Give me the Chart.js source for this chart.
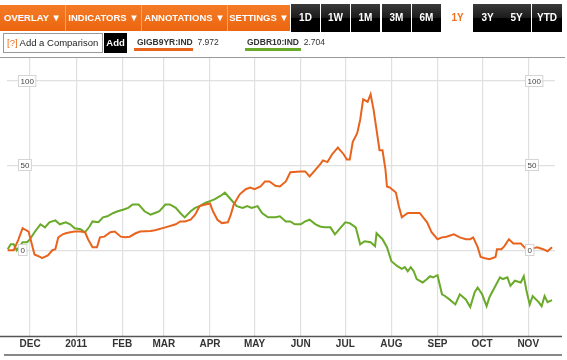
<!DOCTYPE html>
<html>
<head>
<meta charset="utf-8">
<script src="https://cdn.jsdelivr.net/npm/chart.js@4.4.1/dist/chart.umd.min.js"></script>
<style>
  body { margin: 0; width: 567px; height: 360px; overflow: hidden; background: #fff;
         font-family: "Liberation Sans", Arial, sans-serif; position: relative; }
  #chart { position: absolute; left: 0; top: 0; }
  .ob { position: absolute; top: 5px; height: 26px; line-height: 26px; background: linear-gradient(#f47b26, #ec650f);
        color: #fff; font-weight: bold; font-size: 9.5px; text-align: center; border-right: 1px solid #f8a46c; }
  .bb { position: absolute; top: 4px; height: 28px; line-height: 28px; width: 29px; background: linear-gradient(#3a3a3a 0%, #1a1a1a 50%, #000 51%, #000 100%);
        color: #fff; font-weight: bold; font-size: 10px; text-align: center; }
  .bb.sel { background: #fff; color: #f07020; }
  .inp { position: absolute; left: 3px; top: 33px; width: 98px; height: 18px; border: 1px solid #999;
         font-size: 9.5px; line-height: 18px; color: #222; }
  .inp span { color: #e8701e; margin-left: 3px; margin-right: 2px; }
  .add { position: absolute; left: 104px; top: 33px; width: 23px; height: 20px; line-height: 20px; background: #000;
         color: #fff; font-weight: bold; font-size: 9.5px; text-align: center; }
  .ser { position: absolute; top: 37px; font-size: 8.5px; color: #333; }
  .ser b { font-weight: bold; }
  .ul { position: absolute; top: 48px; height: 3px; }
  .hl { position: absolute; left: 0; height: 1px; background: #999; }
</style>
</head>
<body>
<canvas id="chart" width="567" height="360"></canvas>

<div class="ob" style="left:0;width:65px">OVERLAY &#9660;</div>
<div class="ob" style="left:66px;width:75px">INDICATORS &#9660;</div>
<div class="ob" style="left:142px;width:85px">ANNOTATIONS &#9660;</div>
<div class="ob" style="left:228px;width:62px;border-right:none">SETTINGS &#9660;</div>
<div class="bb" style="left:291px">1D</div>
<div class="bb" style="left:321px">1W</div>
<div class="bb" style="left:351px">1M</div>
<div class="bb" style="left:382px">3M</div>
<div class="bb" style="left:412px">6M</div>
<div class="bb sel" style="left:443px">1Y</div>
<div class="bb" style="left:473px">3Y</div>
<div class="bb" style="left:502px">5Y</div>
<div class="bb" style="left:532px;width:30px">YTD</div>

<div class="inp"><span>[?]</span>Add a Comparison</div>
<div class="add">Add</div>
<div class="ser" style="left:137px"><b>GIGB9YR:IND</b>&nbsp; 7.972</div>
<div class="ul" style="left:134px;width:59px;background:#e8641e"></div>
<div class="ser" style="left:247px"><b>GDBR10:IND</b>&nbsp; 2.704</div>
<div class="ul" style="left:245px;width:56px;background:#6aaa2a"></div>
<div class="hl" style="top:57px;width:565px"></div>
<div class="hl" style="top:354px;left:4px;width:558px;height:2px;background:#888"></div>

<script>
// day offsets counted from 2010-12-01
const baseDate = '2010-12-01';
const monthStarts = ['2010-12-01', '2011-01-01', '2011-02-01', '2011-03-01', '2011-04-01', '2011-05-01',
  '2011-06-01', '2011-07-01', '2011-08-01', '2011-09-01', '2011-10-01', '2011-11-01'];
const monthLabels = ['DEC', '2011', 'FEB', 'MAR', 'APR', 'MAY', 'JUN', 'JUL', 'AUG', 'SEP', 'OCT', 'NOV'];
const yTicks = [0, 50, 100];

// GIGB9YR:IND (% change)
const gigbDays = [-15, -11, -8, -5, -1, 3, 7, 8, 12, 15, 17, 19, 22, 24, 27, 30, 34, 37, 39, 42, 45, 47, 50, 54,
  57, 61, 64, 67, 71, 74, 81, 84, 91, 98, 101, 104, 108, 111, 114, 118, 121, 123, 126, 129, 133, 135, 137, 141,
  145, 148, 151, 155, 158, 161, 165, 168, 172, 175, 182, 185, 188, 192, 195, 197, 200, 203, 207, 211, 213, 215,
  217, 220, 222, 224, 227, 229, 231, 233, 235, 237, 239, 240, 242, 246, 248, 250, 254, 259, 262, 267, 270, 274,
  277, 280, 285, 289, 293, 296, 298, 301, 303, 306, 309, 313, 314, 317, 319, 322, 325, 330, 333, 336, 341, 345,
  348, 351];
const gigbValues = [0, 0, 6, 13, 11, -2.5, -4, -4.7, -3, 0, 0.6, 7.6, 9.4, 10, 10.6, 11, 11, 10.6, 6.5, 1.8, 1.8,
  7.6, 8, 10.6, 11, 8, 7.6, 8, 10, 11, 11.4, 11.8, 13.5, 15.3, 17, 17, 18, 21, 26, 27, 27.6, 23, 18, 16, 16.5, 21,
  27, 33, 36, 37, 36, 37.6, 40.6, 40.6, 38, 37.6, 40.6, 46, 46.5, 46.5, 43.5, 47.6, 50.6, 53, 52, 56.5, 60.6, 56.5,
  53.5, 53.5, 64, 69, 77, 89, 87.6, 92, 83, 71, 59, 59, 47.6, 37.6, 37, 34, 26, 19.4, 22, 22, 22, 16.5, 10.6, 6.5,
  7.6, 8, 9.4, 7.6, 6.5, 6.5, 7.6, 1.8, -4, -4.7, -5.3, -4, 0.6, 0.6, 2.4, 6.5, 4, 4, 1.2, 0.6, 1.8, 0.6, -0.6, 1.8];

// GDBR10:IND (% change)
const gdbrDays = [-15, -13, -11, -9, -5, -2, 0, 3, 7, 10, 13, 17, 20, 24, 27, 30, 34, 37, 40, 42, 46, 49, 52, 56,
  59, 63, 66, 69, 73, 74, 77, 81, 84, 87, 91, 94, 98, 101, 104, 108, 111, 114, 118, 121, 124, 128, 131, 133, 137,
  139, 143, 146, 149, 153, 156, 160, 165, 168, 172, 175, 178, 182, 185, 188, 192, 195, 198, 202, 205, 209, 212,
  215, 219, 222, 225, 229, 232, 233, 237, 240, 243, 247, 250, 252, 254, 256, 258, 260, 264, 267, 269, 271, 274,
  277, 279, 282, 286, 289, 293, 296, 299, 301, 304, 307, 309, 313, 316, 318, 321, 323, 326, 330, 332, 334, 336,
  338, 342, 344, 346, 348, 351];
const gdbrValues = [0.6, 3.5, 3.5, 0, 4.7, 4.7, 6.5, 10.6, 15.3, 13.5, 16.5, 17.6, 15.3, 16.5, 15.3, 13, 12.4, 10.6,
  14, 17, 16.5, 19.4, 20, 22, 23, 24, 25, 27, 27, 26, 23, 21, 22, 23, 27, 27, 25, 22, 19.4, 23, 25, 26, 28, 29, 30,
  32, 34, 32, 28, 26, 25, 26, 25, 26, 22, 19.4, 19.4, 20, 17, 17, 15.3, 15.3, 17, 18, 15.3, 14, 13.5, 13.5, 9.4,
  13.5, 16.5, 16, 13.5, 3.5, 5.3, 4.7, 2.4, 10, 6.5, 1.8, -6.5, -9.4, -11, -10, -12.4, -10, -12.4, -17, -19, -17,
  -15.3, -16, -14.7, -26, -27, -29, -32, -26, -29, -33.5, -24.7, -22, -26, -33, -27.6, -21, -16, -17, -16, -21,
  -18, -19, -15.3, -24.7, -32, -27, -30.6, -33, -27, -30.6, -29.4];

function dayOf(s) {
  return Math.round((Date.parse(s) - Date.parse(baseDate)) / 86400000);
}
const monthDays = monthStarts.map(dayOf);

function pairs(days, vals) {
  return days.map((d, i) => ({ x: d, y: vals[i] }));
}

const valueBoxes = {
  id: 'valueBoxes',
  afterDatasetsDraw(chart) {
    const ctx = chart.ctx, y = chart.scales.y;
    ctx.save();
    // extended x-axis line
    ctx.strokeStyle = '#555';
    ctx.lineWidth = 1.5;
    ctx.beginPath();
    ctx.moveTo(0, chart.chartArea.bottom + 0.5);
    ctx.lineTo(562, chart.chartArea.bottom + 0.5);
    ctx.stroke();
    ctx.font = '8px "Liberation Sans", Arial, sans-serif';
    ctx.textBaseline = 'middle';
    yTicks.forEach(v => {
      const py = Math.round(y.getPixelForValue(v));
      const t = String(v);
      const w = ctx.measureText(t).width + 4;
      [18, 525].forEach(px => {
        ctx.fillStyle = '#fff';
        ctx.fillRect(px, py - 6, w, 12);
        ctx.strokeStyle = '#d4d4d4';
        ctx.lineWidth = 1;
        ctx.strokeRect(px + 0.5, py - 5.5, w, 11);
        ctx.fillStyle = '#444';
        ctx.fillText(t, px + 2.5, py + 0.5);
      });
    });
    ctx.restore();
  }
};

new Chart(document.getElementById('chart'), {
  type: 'line',
  data: {
    datasets: [
      { label: 'GIGB9YR:IND', data: pairs(gigbDays, gigbValues), borderColor: '#e8641e', borderWidth: 2, pointRadius: 0, tension: 0 },
      { label: 'GDBR10:IND', data: pairs(gdbrDays, gdbrValues), borderColor: '#6aaa2a', borderWidth: 2, pointRadius: 0, tension: 0 }
    ]
  },
  options: {
    responsive: false,
    animation: false,
    layout: { padding: { left: 7, right: 12, top: 57, bottom: 8 } },
    plugins: { legend: { display: false }, tooltip: { enabled: false } },
    scales: {
      x: {
        type: 'linear', min: -15.5, max: 353,
        afterBuildTicks: s => { s.ticks = monthDays.map(v => ({ value: v })); },
        ticks: {
          autoSkip: false, maxRotation: 0, padding: 2, color: '#333',
          font: { family: '"Liberation Sans", Arial, sans-serif', size: 10, weight: 'bold' },
          callback: (v, i) => monthLabels[i]
        },
        grid: { color: '#e0e0e0', lineWidth: 1.2, drawTicks: false },
        border: { display: false }
      },
      y: {
        min: -50.6, max: 114,
        afterBuildTicks: s => { s.ticks = yTicks.map(v => ({ value: v })); },
        ticks: { display: false },
        grid: { color: '#e0e0e0', lineWidth: 1.2, drawTicks: false },
        border: { display: false }
      }
    }
  },
  plugins: [valueBoxes]
});
</script>
</body>
</html>
